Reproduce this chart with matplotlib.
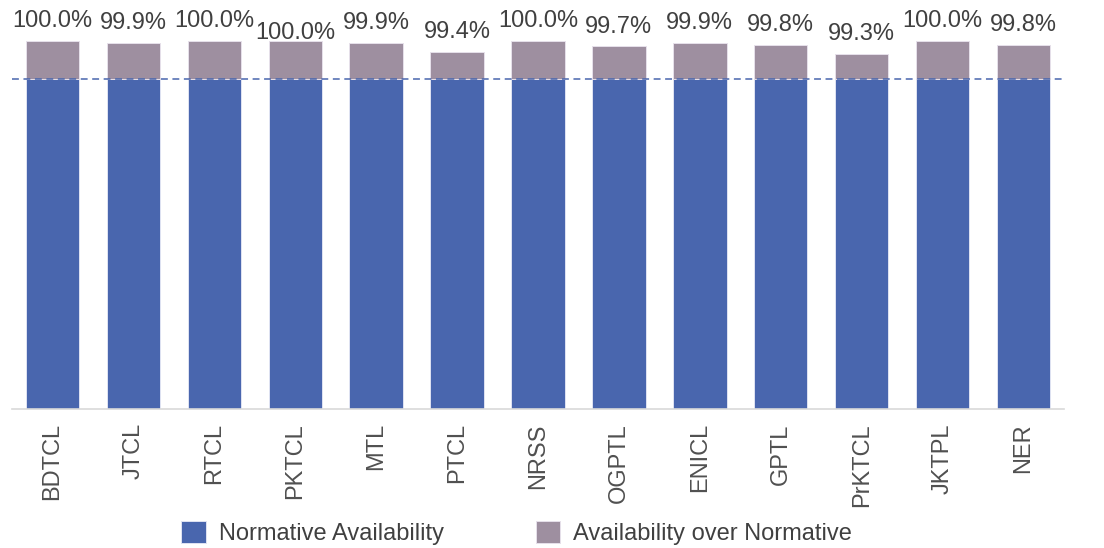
import matplotlib.pyplot as plt
import numpy as np

plt.rcParams["font.family"] = ["Liberation Sans", "DejaVu Sans"]

# data
companies = ["BDTCL", "JTCL", "RTCL", "PKTCL", "MTL", "PTCL", "NRSS",
             "OGPTL", "ENICL", "GPTL", "PrKTCL", "JKTPL", "NER"]
availability = [100.0, 99.9, 100.0, 100.0, 99.9, 99.4, 100.0,
                99.7, 99.9, 99.8, 99.3, 100.0, 99.8]
normative = 98.0

blue = "#4966AE"
grey = "#9E8FA0"
text_col = "#404040"

fig = plt.figure(figsize=(11.04, 5.48), dpi=100)
ax = fig.add_axes([12 / 1104, 0.2531, (1064 - 12) / 1104, 0.9958 - 0.2531])

x = np.arange(len(companies))
avail = np.array(availability)
base = 80.8
over = avail - normative

ax.bar(x, normative - base, bottom=base, width=0.66, color=blue,
       edgecolor="#dfe3f2", linewidth=0.7, label="Normative Availability", zorder=2)
ax.bar(x, over, bottom=normative, width=0.66, color=grey,
       edgecolor="#e6e0ea", linewidth=0.7, label="Availability over Normative", zorder=2)

ax.axhline(normative, color=blue, linestyle=(0, (4.5, 3)), linewidth=1.1, zorder=3)

# value labels (PKTCL label sits lower in the original)
shift = {"PKTCL": -9}
for i, (name, v) in enumerate(zip(companies, availability)):
    ax.annotate(f"{v:.1f}%", xy=(i, v), xytext=(0, 10 + shift.get(name, 0)),
                textcoords="offset points", ha="center", va="baseline",
                fontsize=17, color=text_col, annotation_clip=False)

ax.set_xlim(-0.5, len(companies) - 0.5)
ax.set_ylim(base, 102)
ax.set_xticks(x)
ax.set_xticklabels(companies, rotation=90, fontsize=17, color="#505050")
ax.tick_params(axis="x", length=0, pad=10)
ax.set_yticks([])
for s in ["top", "right", "left"]:
    ax.spines[s].set_visible(False)
ax.spines["bottom"].set_color("#D9D9D9")
ax.spines["bottom"].set_linewidth(1.2)

fig.legend(loc="center", bbox_to_anchor=(516.5 / 1104, 1 - 533 / 548), ncol=2,
           frameon=False, fontsize=17, handlelength=1.05, handleheight=1.05,
           handletextpad=0.55, columnspacing=3.9, borderpad=0, labelcolor=text_col)

fig.savefig("out.png", dpi=100)
